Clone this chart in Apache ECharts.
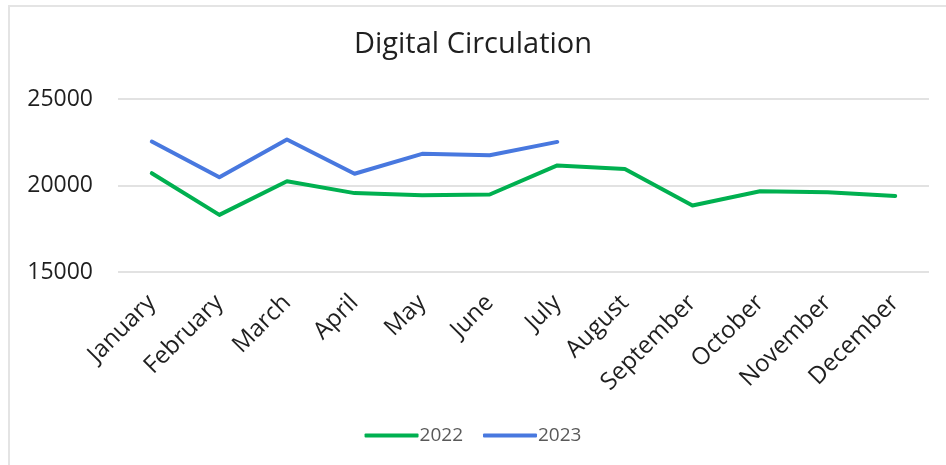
<!DOCTYPE html>
<html>
<head>
<meta charset="utf-8">
<script src="https://cdn.jsdelivr.net/npm/echarts@6/dist/echarts.min.js"></script>
<style>
  html, body { margin: 0; padding: 0; background: #fff; overflow: hidden; }
  #frame { position: absolute; left: 8px; top: 5px; width: 1000px; height: 600px; border: 2px solid #e4e4e4; box-sizing: border-box; }
  #chart { position: absolute; left: 0; top: 0; width: 946px; height: 465px; }
</style>
</head>
<body>
<div id="frame"></div>
<div id="chart"></div>
<script>
const months = ['January', 'February', 'March', 'April', 'May', 'June', 'July',
  'August', 'September', 'October', 'November', 'December'];
const values2022 = [20710, 18300, 20250, 19560, 19440, 19480, 21160, 20960, 18840, 19670, 19610, 19400];
const values2023 = [22540, 20480, 22660, 20680, 21830, 21750, 22520];
const yTicks = { min: 15000, max: 25000, step: 5000 };

const font = '"Open Sans", "Noto Sans", sans-serif';
const chart = echarts.init(document.getElementById('chart'), null, { renderer: 'canvas' });

chart.setOption({
  backgroundColor: 'transparent',
  animation: false,
  title: {
    text: 'Digital Circulation',
    left: 'center',
    top: 25,
    textStyle: { fontFamily: font, fontSize: 29, fontWeight: 'normal', color: '#1f1f1f' }
  },
  legend: {
    bottom: 15,
    left: 'center',
    itemWidth: 54,
    itemHeight: 4,
    itemGap: 20,
    icon: 'roundRect',
    textStyle: { fontFamily: font, fontSize: 19, color: '#595959', padding: [0, 0, 0, -4] },
    data: ['2022', '2023']
  },
  grid: { left: 118, right: 17, top: 99, bottom: 193, containLabel: false },
  xAxis: {
    type: 'category',
    data: months,
    boundaryGap: true,
    axisLine: { show: false },
    axisTick: { show: false },
    axisLabel: {
      rotate: 45,
      interval: 0,
      margin: 27,
      fontFamily: font,
      fontSize: 24,
      color: '#1f1f1f'
    }
  },
  yAxis: {
    type: 'value',
    min: yTicks.min,
    max: yTicks.max,
    interval: yTicks.step,
    axisLine: { show: false },
    axisTick: { show: false },
    axisLabel: {
      fontFamily: font,
      fontSize: 23,
      color: '#1f1f1f',
      margin: 25,
      formatter: (v) => String(v)
    },
    splitLine: { lineStyle: { color: '#d9d9d9', width: 1.5 } }
  },
  series: [
    {
      name: '2022',
      type: 'line',
      data: values2022,
      symbol: 'none',
      color: '#00b050',
      lineStyle: { width: 4, color: '#00b050', cap: 'round', join: 'round' }
    },
    {
      name: '2023',
      type: 'line',
      data: values2023,
      symbol: 'none',
      color: '#4878df',
      lineStyle: { width: 4, color: '#4878df', cap: 'round', join: 'round' }
    }
  ]
});
</script>
</body>
</html>
